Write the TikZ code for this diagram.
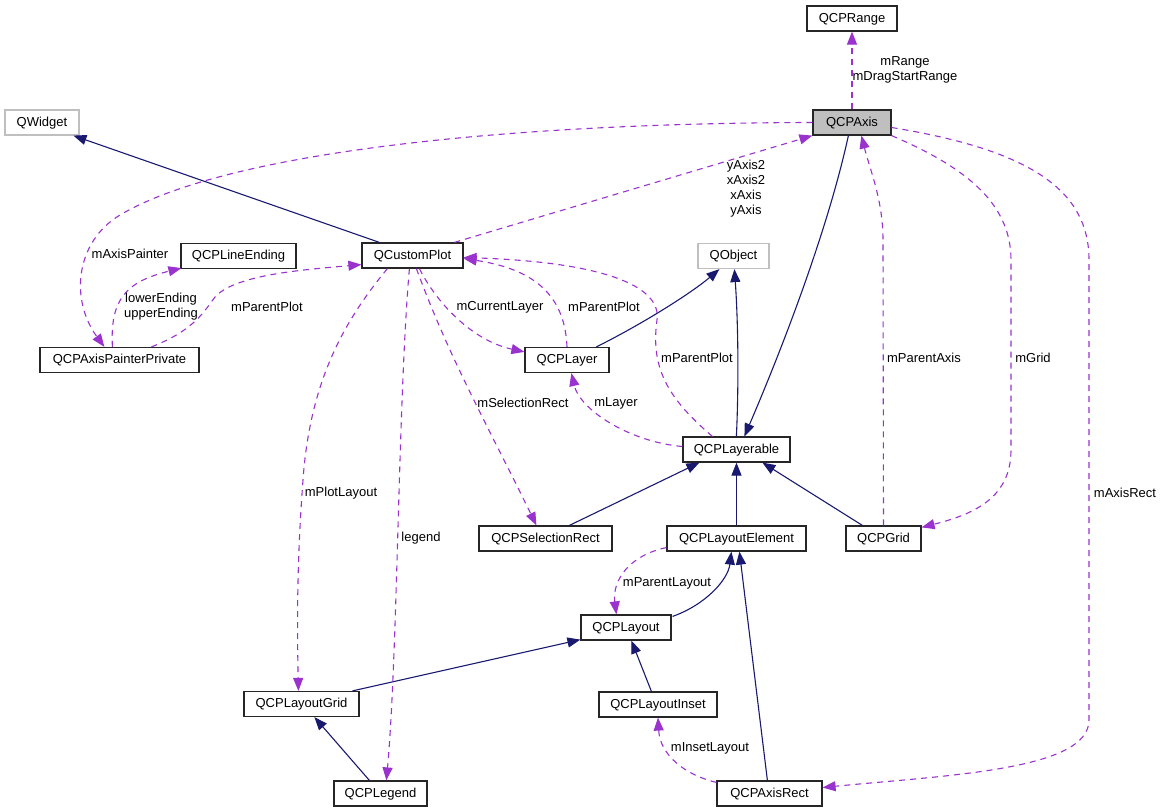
\documentclass[tikz,border=0pt]{standalone}
\usepackage{fontspec}
\setmainfont{Liberation Sans}
\usetikzlibrary{arrows.meta,calc}
\definecolor{inh}{HTML}{191970}
\definecolor{usg}{HTML}{9A32CD}
\definecolor{gbord}{HTML}{BFBFBF}
\begin{document}
\begin{tikzpicture}[x=1bp,y=-1bp, font=\fontsize{13bp}{15bp}\selectfont,
  cls/.style={draw=black!85, line width=1.2bp, minimum height=25bp, inner sep=0pt, text height=9.5bp, text depth=2bp, anchor=center},
  ext/.style={cls, draw=gbord},
  inhedge/.style={draw=inh, line width=1.1bp, -{Triangle[length=13bp,width=10bp]}},
  useedge/.style={draw=usg, line width=1.1bp, dash pattern=on 6bp off 5bp, -{Triangle[length=13bp,width=10bp]}},
  lbl/.style={inner sep=0pt, align=center}]
\useasboundingbox (0,0) rectangle (1163,812);
% classes
\node[cls, minimum width=90bp] (range) at (852,18.5) {QCPRange};
\node[cls, fill=gbord, minimum width=78bp] (axis) at (852,122.5) {QCPAxis};
\node[ext, minimum width=74bp] (widget) at (42,122.5) {QWidget};
\node[cls, minimum width=101bp] (cp) at (412.5,255.5) {QCustomPlot};
\node[cls, minimum width=115bp] (lineend) at (238.5,256) {QCPLineEnding};
\node[cls, minimum width=159bp] (painter) at (119.5,360) {QCPAxisPainterPrivate};
\node[ext, minimum width=71bp] (qobject) at (733.5,256) {QObject};
\node[cls, minimum width=84bp] (layer) at (567,360) {QCPLayer};
\node[cls, minimum width=107bp] (layerable) at (736.5,449.5) {QCPLayerable};
\node[cls, minimum width=133bp] (selrect) at (545.5,538.5) {QCPSelectionRect};
\node[cls, minimum width=139bp] (layoutel) at (736.5,538.5) {QCPLayoutElement};
\node[cls, minimum width=75bp] (grid) at (883.5,538.5) {QCPGrid};
\node[cls, minimum width=90bp] (layout) at (626,627.5) {QCPLayout};
\node[cls, minimum width=115bp] (layoutgrid) at (301.5,704) {QCPLayoutGrid};
\node[cls, minimum width=118bp] (inset) at (658,704.5) {QCPLayoutInset};
\node[cls, minimum width=93bp] (legend) at (380.5,793.5) {QCPLegend};
\node[cls, minimum width=105bp] (axisrect) at (769.5,793.5) {QCPAxisRect};
% inheritance
\draw[inhedge] ($(cp.north west)+(18,0)$) -- ($(widget.south west)+(69,0)$);
\draw[inhedge] ($(layer.north west)+(72,0)$) .. controls (650,320) and (695,290) .. ($(qobject.south west)+(22,0)$);
\draw[inhedge] ($(layerable.north west)+(54,0)$) .. controls (739,380) and (738,320) .. ($(qobject.south west)+(37,0)$);
\draw[inhedge] ($(axis.south west)+(36,0)$) .. controls (830,220) and (790,330) .. ($(layerable.north west)+(62,0)$);
\draw[inhedge] ($(selrect.north west)+(91,0)$) -- ($(layerable.south west)+(17,0)$);
\draw[inhedge] (layoutel.north) -- (layerable.south);
\draw[inhedge] ($(grid.north west)+(17,0)$) -- ($(layerable.south west)+(80,0)$);
\draw[inhedge] ($(layout.north east)+(1,2)$) .. controls (705,605) and (728,580) .. ($(layoutel.south west)+(65,0)$);
\draw[inhedge] ($(axisrect.north west)+(51,0)$) -- ($(layoutel.south west)+(73,0)$);
\draw[inhedge] ($(layoutgrid.north west)+(109,0)$) -- ($(layout.south west)+(0,-1)$);
\draw[inhedge] ($(inset.north west)+(53,0)$) -- ($(layout.south west)+(51,0)$);
\draw[inhedge] ($(legend.north west)+(36,0)$) -- ($(layoutgrid.south west)+(71,0)$);
% usage
\draw[useedge] (axis.north) -- (range.south);
\draw[useedge] (axis.west) .. controls (520,123) and (230,150) .. (120,215) .. controls (75,242) and (70,300) .. ($(painter.north west)+(65,0)$);
\draw[useedge] ($(cp.north west)+(93,0)$) -- (axis.south west);
\draw[useedge] ($(painter.north west)+(73,0)$) .. controls (110,300) and (125,282) .. ($(lineend.south west)+(1,-1)$);
\draw[useedge] ($(painter.north west)+(112,0)$) .. controls (195,330) and (205,310) .. (215,297) .. controls (235,275) and (300,270) .. ($(cp.south west)+(0,-4)$);
\draw[useedge] ($(cp.south west)+(58,0)$) .. controls (435,300) and (470,340) .. ($(layer.north west)+(0,5)$);
\draw[useedge] (layer.north) .. controls (565,300) and (540,270) .. ($(cp.east)+(0,3)$);
\draw[useedge] ($(layerable.north west)+(30,0)$) .. controls (670,400) and (650,370) .. (657,320) .. controls (662,285) and (600,262) .. ($(cp.east)+(0,2)$);
\draw[useedge] ($(layerable.west)+(0,-3)$) .. controls (630,442) and (580,410) .. ($(layer.south west)+(47,0)$);
\draw[useedge] ($(cp.south west)+(55,0)$) .. controls (450,360) and (490,430) .. ($(selrect.north west)+(58,0)$);
\draw[useedge] ($(cp.south west)+(26,0)$) .. controls (345,320) and (310,380) .. (303,480) .. controls (297,560) and (297,620) .. ($(layoutgrid.north west)+(55,0)$);
\draw[useedge] ($(cp.south west)+(48,0)$) .. controls (398,400) and (398,650) .. ($(legend.north west)+(53,0)$);
\draw[useedge] (axis.south east) .. controls (960,165) and (1011,200) .. (1011,260) -- (1011,450) .. controls (1011,500) and (970,515) .. ($(grid.north east)+(0,2)$);
\draw[useedge] (grid.north) -- (883,240) .. controls (883,200) and (870,170) .. ($(axis.south west)+(49,0)$);
\draw[useedge] ($(axis.east)+(0,5)$) .. controls (1030,150) and (1089,190) .. (1089,260) -- (1089,720) .. controls (1089,770) and (950,775) .. ($(axisrect.east)+(0,-6)$);
\draw[useedge] ($(layoutel.south west)+(0,-4)$) .. controls (630,555) and (612,580) .. ($(layout.north west)+(36,0)$);
\draw[useedge] ($(axisrect.north west)+(0,2)$) .. controls (685,775) and (660,755) .. (inset.south);
% labels
\node[lbl] (lRange) at (905,69.5) {mRange\\mDragStartRange};
\node[lbl] (lAxes) at (746,188.5) {yAxis2\\xAxis2\\xAxis\\yAxis};
\node[lbl] (lPainter) at (130,254) {mAxisPainter};
\node[lbl] (lEnd) at (161,306.5) {lowerEnding\\upperEnding};
\node[lbl] (lPP1) at (267,307) {mParentPlot};
\node[lbl] (lCur) at (500,307) {mCurrentLayer};
\node[lbl] (lPP2) at (604,307) {mParentPlot};
\node[lbl] (lPP3) at (697,358) {mParentPlot};
\node[lbl] (lLayer) at (616,403) {mLayer};
\node[lbl] (lSel) at (523,403) {mSelectionRect};
\node[lbl] (lPL) at (341,493) {mPlotLayout};
\node[lbl] (lLeg) at (421,538) {legend};
\node[lbl] (lPA) at (924,358) {mParentAxis};
\node[lbl] (lGrid) at (1033,358) {mGrid};
\node[lbl] (lAR) at (1125,493) {mAxisRect};
\node[lbl] (lPLay) at (667,583) {mParentLayout};
\node[lbl] (lIns) at (710,748) {mInsetLayout};
\end{tikzpicture}
\end{document}
